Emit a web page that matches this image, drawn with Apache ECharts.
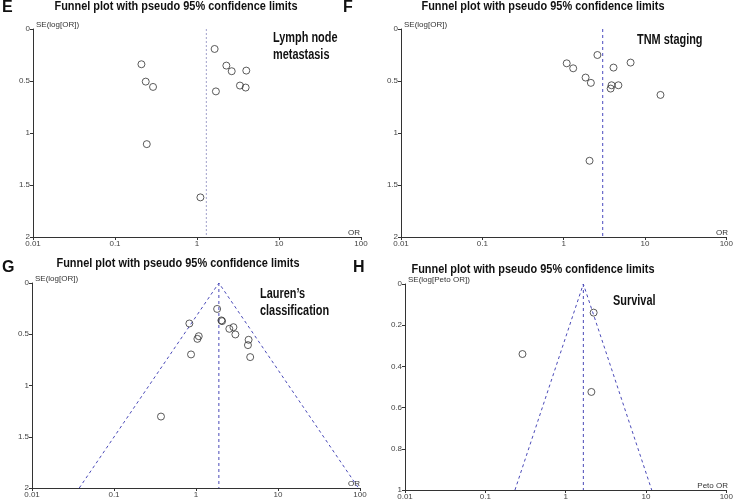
<!DOCTYPE html>
<html><head><meta charset="utf-8">
<script src="https://cdn.jsdelivr.net/npm/echarts@6/dist/echarts.min.js"></script>
<style>html,body{margin:0;padding:0;background:#fff}#c{width:736px;height:502px}</style>
</head><body><div id="c"></div>
<script>
// Panel E: Lymph node metastasis
const eOR = [0.21, 0.237, 0.291, 0.244, 1.10, 1.64, 2.28, 2.65, 3.99, 3.34, 3.92, 1.70];
const eSE = [0.339, 0.506, 0.557, 1.107, 1.619, 0.192, 0.352, 0.406, 0.40, 0.544, 0.563, 0.60];
const ePooled = 1.30;
// Panel F: TNM staging
const fOR = [1.09, 1.31, 2.60, 1.86, 2.16, 4.10, 6.65, 3.88, 3.78, 4.71, 15.5, 2.08];
const fSE = [0.33, 0.378, 0.25, 0.467, 0.518, 0.371, 0.323, 0.541, 0.573, 0.541, 0.634, 1.267];
const fPooled = 3.02;
// Panel G: Lauren's classification
const gOR = [1.81, 0.83, 2.04, 2.08, 1.08, 1.04, 0.87, 2.55, 2.86, 3.02, 4.38, 4.30, 4.58, 0.374];
const gSE = [0.253, 0.395, 0.365, 0.372, 0.519, 0.545, 0.697, 0.447, 0.431, 0.502, 0.554, 0.606, 0.723, 1.303];
const gPooled = 1.90;
// Panel H: Survival
const hOR = [2.23, 0.29, 2.09];
const hSE = [0.139, 0.34, 0.524];
const hPooled = 1.66;

const xTicks = ['0.01', '0.1', '1', '10', '100'];
const seMaxAB = 2, seMaxH = 1;

const chart = echarts.init(document.getElementById('c'));
const grids = [
  {left: 33, top: 29, width: 328, height: 208},
  {left: 401, top: 29, width: 327, height: 208},
  {left: 32, top: 283, width: 328, height: 205},
  {left: 405, top: 284, width: 325, height: 206}
];
const lineStyle = {color: '#333', width: 1};
const lbl = {fontSize: 8, color: '#444', fontFamily: 'Liberation Sans, Arial'};
function xAx(i) {
  return {type: 'log', logBase: 10, gridIndex: i, min: 0.01, max: 100, position: 'bottom',
    axisLine: {onZero: false, lineStyle}, axisTick: {length: 3, lineStyle: {color: '#333'}}, splitLine: {show: false},
    axisLabel: Object.assign({margin: 3, formatter: v => {
      const s = xTicks.find(t => Math.abs(parseFloat(t) - v) / v < 1e-6); return s || '';
    }}, lbl)};
}
function yAx(i, max, interval) {
  return {type: 'value', gridIndex: i, min: 0, max, interval, inverse: true, position: 'left',
    axisLine: {onZero: false, lineStyle}, axisTick: {length: 3, lineStyle: {color: '#333'}},
    splitLine: {show: false}, axisLabel: Object.assign({margin: 3}, lbl)};
}
function pts(or, se, i) {
  return {type: 'scatter', xAxisIndex: i, yAxisIndex: i, symbol: 'circle', symbolSize: 7,
    itemStyle: {color: 'rgba(255,255,255,0)', borderColor: '#333', borderWidth: 1},
    data: or.map((v, k) => [v, se[k]]), z: 5};
}
function vline(p, max, i, color, dash) {
  return {type: 'line', xAxisIndex: i, yAxisIndex: i, symbol: 'none',
    lineStyle: {color, width: 1, type: dash}, data: [[p, 0], [p, max]]};
}
function funnel(p, max, i) {
  const z = 1.96;
  return {type: 'line', xAxisIndex: i, yAxisIndex: i, symbol: 'none',
    lineStyle: {color: '#4a4ab8', width: 1, type: [3, 3]},
    data: [[p * Math.exp(-z * max), max], [p, 0], [p * Math.exp(z * max), max]]};
}
const boldFam = 'Liberation Sans Narrow, Arial Narrow, Liberation Sans';
const titleFont = {fontSize: 12.5, fontWeight: 'bold', fill: '#111', fontFamily: boldFam};
const annFont = {fontSize: 14, fontWeight: 'bold', fill: '#111', fontFamily: boldFam, lineHeight: 17};
const letterFont = {fontSize: 16, fontWeight: 'bold', fill: '#111', fontFamily: 'Liberation Sans, Arial'};
const nameFont = {fontSize: 8, fill: '#333', fontFamily: 'Liberation Sans, Arial'};
function txt(x, y, text, style, align, sx) {
  return {type: 'text', x, y, scaleX: sx || 1,
    style: Object.assign({text, textAlign: align || 'left', textVerticalAlign: 'middle'}, style)};
}
const title = 'Funnel plot with pseudo 95% confidence limits';
const tS = 0.875, aS = 0.78;
chart.setOption({
  animation: false,
  backgroundColor: '#fff',
  grid: grids,
  xAxis: [xAx(0), xAx(1), xAx(2), xAx(3)],
  yAxis: [yAx(0, 2, 0.5), yAx(1, 2, 0.5), yAx(2, 2, 0.5), yAx(3, 1, 0.2)],
  series: [
    vline(ePooled, seMaxAB, 0, '#a2a2cc', [2, 2]),
    pts(eOR, eSE, 0),
    vline(fPooled, seMaxAB, 1, '#4a4ac0', [3, 3]),
    pts(fOR, fSE, 1),
    funnel(gPooled, seMaxAB, 2),
    vline(gPooled, seMaxAB, 2, '#4a4ab8', [3, 3]),
    pts(gOR, gSE, 2),
    funnel(hPooled, seMaxH, 3),
    vline(hPooled, seMaxH, 3, '#4a4ab8', [3, 3]),
    pts(hOR, hSE, 3)
  ],
  graphic: [
    txt(2, 8, 'E', letterFont), txt(343, 8, 'F', letterFont),
    txt(2, 268, 'G', letterFont), txt(353, 268, 'H', letterFont),
    txt(176, 7, title, titleFont, 'center', tS),
    txt(543, 7, title, titleFont, 'center', tS),
    txt(178, 264, title, titleFont, 'center', tS),
    txt(533, 270, title, titleFont, 'center', tS),
    txt(273, 47, 'Lymph node\nmetastasis', annFont, 'left', aS),
    txt(637, 40, 'TNM staging', annFont, 'left', aS),
    txt(260, 303, 'Lauren\u2019s\nclassification', annFont, 'left', aS),
    txt(613, 301, 'Survival', annFont, 'left', aS),
    txt(36, 25, 'SE(log[OR])', nameFont),
    txt(404, 25, 'SE(log[OR])', nameFont),
    txt(35, 279, 'SE(log[OR])', nameFont),
    txt(408, 280, 'SE(log[Peto OR])', nameFont),
    txt(360, 233, 'OR', nameFont, 'right'),
    txt(728, 233, 'OR', nameFont, 'right'),
    txt(360, 484, 'OR', nameFont, 'right'),
    txt(728, 486, 'Peto OR', nameFont, 'right')
  ]
});
</script></body></html>
